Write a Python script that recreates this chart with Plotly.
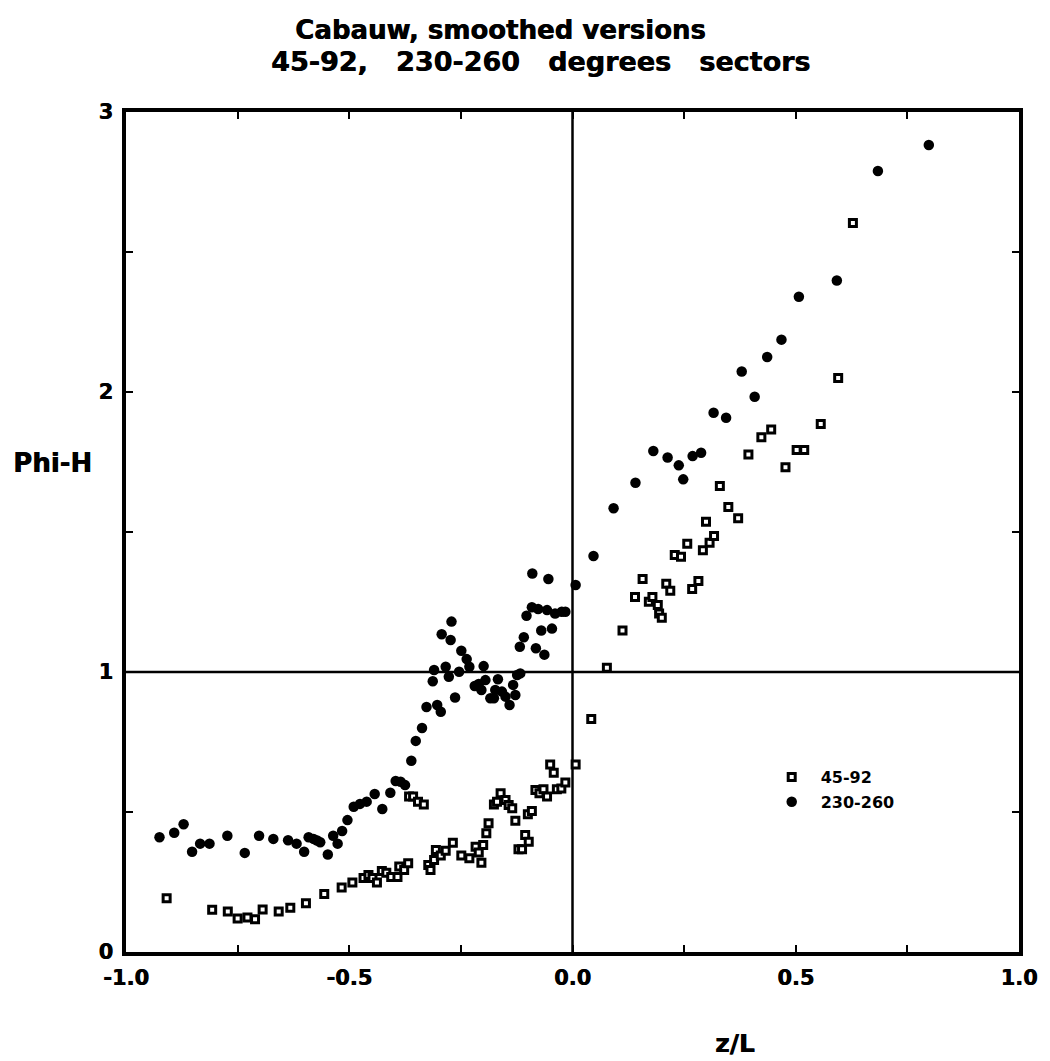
import plotly.graph_objects as go

# ---- data ----
sq_label = "45-92"
sq_x = [-0.909, -0.807, -0.772, -0.750, -0.728, -0.711, -0.694, -0.658, -0.632, -0.597,
        -0.556, -0.517, -0.493, -0.468, -0.457, -0.448, -0.438, -0.427, -0.417, -0.406,
        -0.392, -0.388, -0.377, -0.368, -0.366, -0.357, -0.346, -0.333, -0.323, -0.318,
        -0.310, -0.306, -0.295, -0.284, -0.268, -0.249, -0.231, -0.217, -0.210, -0.204,
        -0.200, -0.193, -0.188, -0.176, -0.169, -0.161, -0.150, -0.143, -0.135, -0.128,
        -0.121, -0.113, -0.106, -0.098, -0.100, -0.091, -0.083, -0.074, -0.065, -0.057,
        -0.050, -0.042, -0.035, -0.025, -0.016, 0.007, 0.042, 0.077, 0.112, 0.140,
        0.157, 0.171, 0.179, 0.191, 0.194, 0.200, 0.210, 0.219, 0.229, 0.243,
        0.257, 0.268, 0.282, 0.292, 0.299, 0.307, 0.317, 0.330, 0.349, 0.371,
        0.394, 0.423, 0.445, 0.477, 0.502, 0.519, 0.556, 0.595, 0.628]
sq_y = [0.192, 0.151, 0.145, 0.120, 0.123, 0.117, 0.152, 0.145, 0.158, 0.174,
        0.207, 0.230, 0.248, 0.264, 0.275, 0.264, 0.248, 0.289, 0.283, 0.268,
        0.268, 0.305, 0.293, 0.317, 0.555, 0.555, 0.537, 0.527, 0.311, 0.293,
        0.329, 0.364, 0.345, 0.362, 0.390, 0.345, 0.335, 0.376, 0.355, 0.319,
        0.382, 0.424, 0.460, 0.527, 0.537, 0.567, 0.543, 0.525, 0.513, 0.469,
        0.367, 0.367, 0.418, 0.394, 0.492, 0.504, 0.579, 0.567, 0.581, 0.555,
        0.670, 0.640, 0.581, 0.584, 0.605, 0.670, 0.832, 1.015, 1.148, 1.268,
        1.332, 1.251, 1.268, 1.239, 1.209, 1.194, 1.315, 1.290, 1.418, 1.412,
        1.458, 1.296, 1.325, 1.435, 1.537, 1.462, 1.486, 1.664, 1.589, 1.549,
        1.777, 1.838, 1.866, 1.731, 1.793, 1.793, 1.886, 2.050, 2.604]

ci_label = "230-260"
ci_x = [-0.925, -0.892, -0.871, -0.852, -0.834, -0.813, -0.773, -0.734, -0.702, -0.670,
        -0.637, -0.618, -0.601, -0.591, -0.580, -0.572, -0.565, -0.548, -0.536, -0.526,
        -0.516, -0.504, -0.490, -0.476, -0.461, -0.443, -0.426, -0.408, -0.396, -0.385,
        -0.375, -0.361, -0.351, -0.337, -0.327, -0.313, -0.310, -0.303, -0.295, -0.293,
        -0.284, -0.277, -0.273, -0.271, -0.263, -0.254, -0.249, -0.237, -0.231, -0.219,
        -0.210, -0.204, -0.199, -0.195, -0.184, -0.176, -0.173, -0.167, -0.158, -0.150,
        -0.141, -0.133, -0.128, -0.124, -0.117, -0.118, -0.109, -0.103, -0.090, -0.091,
        -0.082, -0.077, -0.070, -0.063, -0.057, -0.054, -0.046, -0.039, -0.024, -0.016,
        0.007, 0.047, 0.092, 0.141, 0.181, 0.213, 0.238, 0.248, 0.269, 0.288,
        0.316, 0.344, 0.379, 0.408, 0.436, 0.468, 0.507, 0.592, 0.684, 0.798]
ci_y = [0.410, 0.426, 0.456, 0.358, 0.387, 0.387, 0.415, 0.354, 0.415, 0.404,
        0.399, 0.387, 0.358, 0.410, 0.404, 0.398, 0.392, 0.348, 0.415, 0.387,
        0.432, 0.471, 0.519, 0.529, 0.537, 0.564, 0.511, 0.569, 0.611, 0.608,
        0.596, 0.683, 0.754, 0.800, 0.875, 0.967, 1.007, 0.882, 0.858, 1.135,
        1.019, 0.983, 1.114, 1.180, 0.909, 1.001, 1.076, 1.046, 1.019, 0.950,
        0.957, 0.936, 1.021, 0.971, 0.906, 0.906, 0.936, 0.974, 0.930, 0.912,
        0.882, 0.954, 0.918, 0.989, 0.995, 1.090, 1.124, 1.201, 1.352, 1.231,
        1.085, 1.225, 1.148, 1.062, 1.221, 1.332, 1.155, 1.209, 1.215, 1.215,
        1.311, 1.414, 1.585, 1.676, 1.789, 1.766, 1.738, 1.688, 1.771, 1.783,
        1.926, 1.908, 2.073, 1.983, 2.125, 2.187, 2.340, 2.398, 2.789, 2.882]

x_tickvals = [-1.0, -0.5, 0.0, 0.5, 1.0]
x_ticktext = ["-1.0", "-0.5", "0.0", "0.5", "1.0"]
y_tickvals = [0, 1, 2, 3]
y_ticktext = ["0", "1", "2", "3"]

SP = "\u00a0\u00a0\u00a0"
title_line1 = "Cabauw, smoothed versions"
title_line2 = "45-92," + SP + "230-260" + SP + "degrees" + SP + "sectors"
x_title = "z/L"
y_title = "Phi-H"

FONT = "DejaVu Sans"
SHADOW = "0.6px 0px 0px black"


def bold_font(size):
    return dict(family=FONT, size=size, color="black", weight="bold", shadow=SHADOW)


fig = go.Figure()
fig.add_trace(go.Scatter(
    x=sq_x, y=sq_y, mode="markers", name=sq_label, legendgroup="a",
    marker=dict(symbol="square", size=7, color="white",
                line=dict(color="black", width=3)),
))
fig.add_trace(go.Scatter(
    x=ci_x, y=ci_y, mode="markers", name=ci_label, legendgroup="b",
    marker=dict(symbol="circle", size=10.5, color="black",
                line=dict(color="black", width=0)),
))

# reference lines
fig.add_shape(type="line", xref="x", yref="y", x0=-1, x1=1, y0=1, y1=1,
              line=dict(color="black", width=2.5), layer="below")
fig.add_shape(type="line", xref="x", yref="y", x0=0, x1=0, y0=0, y1=3,
              line=dict(color="black", width=2.5), layer="below")

axis_common = dict(
    showgrid=False, zeroline=False, showline=True, linecolor="black", linewidth=3.5,
    mirror="ticks", ticks="inside", ticklen=7, tickwidth=2, tickcolor="black",
    tickfont=bold_font(21),
)

fig.update_xaxes(range=[-1, 1], tickvals=x_tickvals, ticktext=x_ticktext,
                 minor=dict(dtick=0.25, ticks="inside", ticklen=7, tickwidth=2, tickcolor="black"),
                 ticklabelstandoff=4, **axis_common)
fig.update_yaxes(range=[0, 3], tickvals=y_tickvals, ticktext=y_ticktext,
                 minor=dict(dtick=0.5, ticks="inside", ticklen=7, tickwidth=2, tickcolor="black"),
                 ticklabelstandoff=5, **axis_common)

# title lines (pixel centres ~ (502, 30) and (542, 62))
fig.add_annotation(text=title_line1, xref="paper", yref="paper",
                   x=(502 - 126) / 896, y=(952 - 30) / 840,
                   xanchor="center", yanchor="middle", showarrow=False,
                   font=bold_font(26))
fig.add_annotation(text=title_line2, xref="paper", yref="paper",
                   x=(542 - 126) / 896, y=(952 - 62) / 840,
                   xanchor="center", yanchor="middle", showarrow=False,
                   font=bold_font(27))
fig.add_annotation(text=y_title, xref="paper", yref="paper",
                   x=(52 - 126) / 896, y=(952 - 463) / 840,
                   xanchor="center", yanchor="middle", showarrow=False,
                   font=bold_font(26))
fig.add_annotation(text=x_title, xref="paper", yref="paper",
                   x=(737 - 126) / 896, y=(952 - 1043) / 840,
                   xanchor="center", yanchor="middle", showarrow=False,
                   font=bold_font(25))

fig.update_layout(
    width=1050, height=1061, autosize=False,
    margin=dict(l=126, r=28, t=112, b=109),
    paper_bgcolor="white", plot_bgcolor="white",
    showlegend=True,
    legend=dict(x=0.713, y=0.2286, xanchor="left", yanchor="top",
                bgcolor="rgba(0,0,0,0)", borderwidth=0, itemwidth=48,
                tracegroupgap=1,
                font=dict(family=FONT, size=16, color="black", weight="bold")),
)

fig.write_html("out.html")
